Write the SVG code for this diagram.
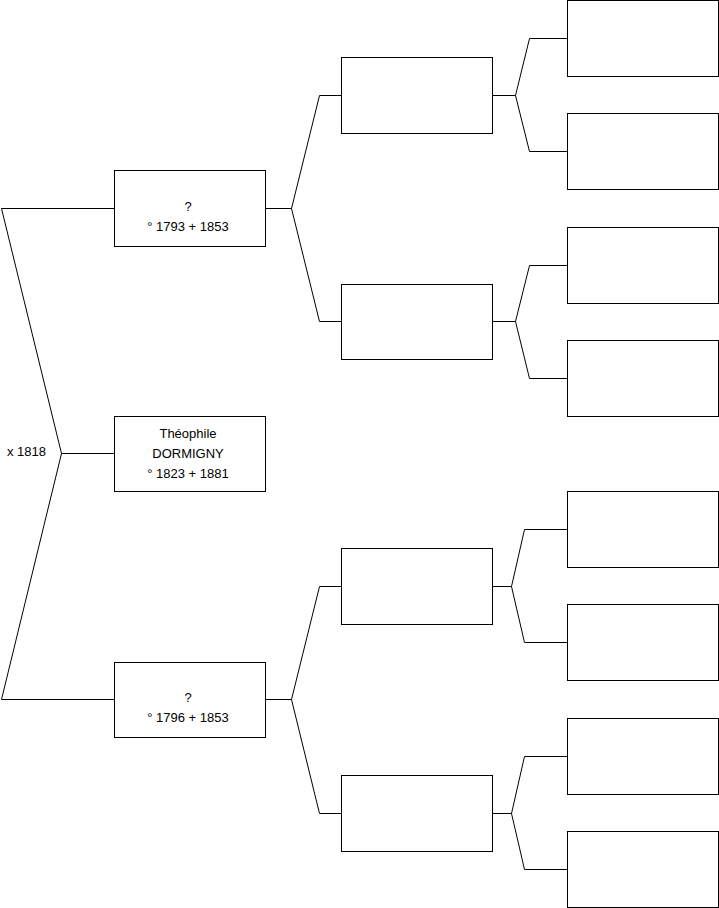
<svg xmlns="http://www.w3.org/2000/svg" width="719" height="908" viewBox="0 0 719 908">
<style>
.b{fill:#fff;stroke:#000;stroke-width:1}
.c{fill:none;stroke:#000;stroke-width:1}
text{font-family:"Liberation Sans",Arial,sans-serif;font-size:13px;fill:#000}
.m{text-anchor:middle}
</style>
<rect width="719" height="908" fill="#fff"/>
<g id="connectors">
<polyline class="c" points="114.5,208.5 1.5,208.5 61.5,453.5 1.5,699.5 114.5,699.5"/>
<line class="c" x1="61.5" y1="453.5" x2="114.5" y2="453.5"/>
<polyline class="c" points="341.5,95.5 319.5,95.5 291.5,208.5 319.5,321.5 341.5,321.5"/>
<line class="c" x1="265.5" y1="208.5" x2="291.5" y2="208.5"/>
<polyline class="c" points="341.5,586.5 319.5,586.5 291.5,699.5 319.5,813.5 341.5,813.5"/>
<line class="c" x1="265.5" y1="699.5" x2="291.5" y2="699.5"/>
<polyline class="c" points="567.5,38.5 529.5,38.5 515.5,95.5 529.5,151.5 567.5,151.5"/>
<line class="c" x1="492.5" y1="95.5" x2="515.5" y2="95.5"/>
<polyline class="c" points="567.5,265.5 529.5,265.5 515.5,321.5 529.5,378.5 567.5,378.5"/>
<line class="c" x1="492.5" y1="321.5" x2="515.5" y2="321.5"/>
<polyline class="c" points="567.5,529.5 524.5,529.5 511.5,586.5 524.5,642.5 567.5,642.5"/>
<line class="c" x1="492.5" y1="586.5" x2="511.5" y2="586.5"/>
<polyline class="c" points="567.5,756.5 524.5,756.5 511.5,813.5 524.5,869.5 567.5,869.5"/>
<line class="c" x1="492.5" y1="813.5" x2="511.5" y2="813.5"/>
</g>
<text x="7" y="456">x 1818</text>
<g id="father">
<rect class="b" x="114.5" y="170.5" width="151" height="76"/>
<text class="m" x="188" y="211">?</text>
<text class="m" x="188" y="231">° 1793 + 1853</text>
</g>
<g id="self">
<rect class="b" x="114.5" y="416.5" width="151" height="75"/>
<text class="m" x="188" y="438">Théophile</text>
<text class="m" x="188" y="458">DORMIGNY</text>
<text class="m" x="188" y="478">° 1823 + 1881</text>
</g>
<g id="mother">
<rect class="b" x="114.5" y="662.5" width="151" height="75"/>
<text class="m" x="188" y="702">?</text>
<text class="m" x="188" y="722">° 1796 + 1853</text>
</g>
<g id="gf1"><rect class="b" x="341.5" y="57.5" width="151" height="76"/></g>
<g id="gm1"><rect class="b" x="341.5" y="284.5" width="151" height="75"/></g>
<g id="gf2"><rect class="b" x="341.5" y="548.5" width="151" height="76"/></g>
<g id="gm2"><rect class="b" x="341.5" y="775.5" width="151" height="76"/></g>
<g id="ggp1"><rect class="b" x="567.5" y="0.5" width="151" height="76"/></g>
<g id="ggp2"><rect class="b" x="567.5" y="113.5" width="151" height="76"/></g>
<g id="ggp3"><rect class="b" x="567.5" y="227.5" width="151" height="76"/></g>
<g id="ggp4"><rect class="b" x="567.5" y="340.5" width="151" height="76"/></g>
<g id="ggp5"><rect class="b" x="567.5" y="491.5" width="151" height="76"/></g>
<g id="ggp6"><rect class="b" x="567.5" y="604.5" width="151" height="76"/></g>
<g id="ggp7"><rect class="b" x="567.5" y="718.5" width="151" height="76"/></g>
<g id="ggp8"><rect class="b" x="567.5" y="831.5" width="151" height="76"/></g>
</svg>
